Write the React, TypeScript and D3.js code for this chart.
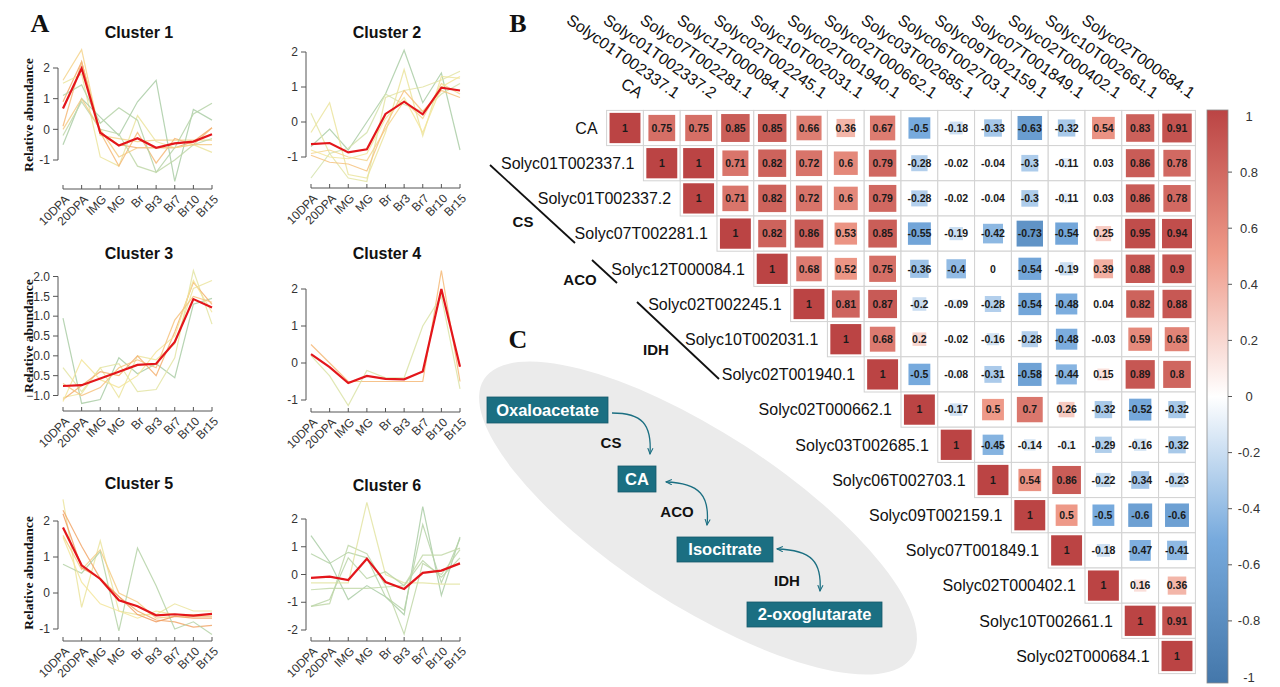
import React from 'react';
import * as d3 from 'd3';

// ---------------- DATA ----------------
const stages = ['10DPA', '20DPA', 'IMG', 'MG', 'Br', 'Br3', 'Br7', 'Br10', 'Br15'];

const clusterTitles = ['Cluster 1', 'Cluster 2', 'Cluster 3', 'Cluster 4', 'Cluster 5', 'Cluster 6'];

const cluster1Profiles = [
  [0.9, 2.2, -0.1, -0.5, -0.6, -0.6, -0.6, -0.4, 0.05],
  [1.6, 2.6, -0.2, -0.3, -0.4, -0.35, -0.35, -0.35, -0.35],
  [1.5, 1.8, -0.9, -1.2, 0.45, -0.4, -0.6, -0.5, -0.75],
  [0.1, 2.2, -0.1, -1.2, -0.1, -1.1, -0.3, -0.5, 0.05],
  [-0.5, 1.0, 0.4, -0.2, 0.9, 1.6, -1.7, 0.65, 0.3],
  [1.1, 1.45, 0.2, 0.7, 0.3, -1.4, -0.6, 0.5, 0.85],
  [-0.2, 0.9, 0.0, -0.15, -1.2, -1.4, -1.0, -0.5, -0.3],
  [0.0, 1.0, 0.0, -0.9, -0.6, -0.6, -0.6, -0.5, -0.5],
];
const cluster1Membership = [0.85, 0.6, 0.45, 0.75, 0.1, 0.15, 0.2, 0.65];
const cluster1Centroid = [0.68, 1.99, -0.11, -0.53, -0.29, -0.6, -0.46, -0.4, -0.16];

const cluster2Profiles = [
  [-0.7, -0.2, -0.8, 0.0, 0.8, 2.05, 0.55, 1.4, -0.8],
  [0.25, -0.9, -1.6, -1.7, 0.7, 0.9, 1.0, 1.2, 1.45],
  [-1.6, -0.9, -0.75, -0.3, 0.8, 0.5, 0.3, 0.8, 1.1],
  [-0.3, 0.55, -1.5, -1.6, -0.3, 1.5, -0.4, 1.3, 1.25],
  [-0.9, -0.8, -1.0, -1.1, -0.2, 0.6, 0.1, 1.1, 0.8],
  [-0.95, -1.15, -1.2, -1.4, -0.1, 0.9, 0.3, 0.9, 0.7],
  [-0.8, -1.0, -1.05, -0.9, 0.1, 0.7, -0.3, 1.0, 1.3],
];
const cluster2Membership = [0.1, 0.4, 0.3, 0.45, 0.6, 0.7, 0.5];
const cluster2Centroid = [-0.63, -0.6, -0.87, -0.78, 0.23, 0.58, 0.22, 0.98, 0.9];

const cluster3Profiles = [
  [0.95, -1.2, -1.1, -0.05, -0.45, -0.2, -0.55, 1.3, 1.45],
  [-0.3, -0.9, -0.3, -0.2, -0.9, -0.85, -0.05, 2.15, 0.8],
  [-1.05, -0.95, -0.3, -1.05, 0.0, -0.1, 0.3, 1.7, 1.9],
  [-1.1, -0.75, -0.4, -0.5, 0.0, -0.5, 0.6, 1.85, 1.3],
  [-1.15, -0.1, -0.6, -0.8, -0.5, 0.1, 0.5, 1.9, 1.1],
  [-0.7, -1.0, -0.8, -0.3, -0.1, -0.3, 0.9, 1.5, 1.35],
];
const cluster3Membership = [0.1, 0.4, 0.45, 0.8, 0.5, 0.7];
const cluster3Centroid = [-0.76, -0.74, -0.57, -0.4, -0.23, -0.2, 0.35, 1.43, 1.22];

const cluster4Profiles = [
  [0.5, 0.0, -0.5, -0.5, -0.5, -0.5, -0.5, 2.5, -0.5],
  [0.2, -0.35, -1.15, -0.2, -0.4, -0.4, 1.0, 1.8, -0.7],
];
const cluster4Membership = [0.75, 0.35];
const cluster4Centroid = [0.24, -0.11, -0.54, -0.35, -0.43, -0.44, -0.23, 2.0, -0.1];

const cluster5Profiles = [
  [2.6, -0.4, 1.45, -0.5, -0.6, -0.6, -0.3, -0.5, -0.5],
  [2.3, 1.3, 0.4, -0.1, -0.5, -0.75, -0.8, -0.95, -0.9],
  [1.6, 0.65, 1.2, 0.0, -0.25, -0.7, -0.65, -0.65, -0.65],
  [0.8, 0.55, 1.15, -1.05, 1.25, 0.2, -1.0, -0.8, -1.15],
  [1.55, 0.3, -0.3, -0.5, -0.7, -0.5, -0.6, -0.6, -0.6],
  [2.2, 0.7, 0.4, -0.1, -0.6, -0.8, -0.65, -0.7, -0.7],
];
const cluster5Membership = [0.45, 0.85, 0.65, 0.15, 0.5, 0.9];
const cluster5Centroid = [1.82, 0.77, 0.39, -0.2, -0.37, -0.62, -0.59, -0.63, -0.58];

const cluster6Profiles = [
  [1.4, 0.45, -0.9, -0.4, -0.8, -1.45, 2.45, -0.75, 1.35],
  [0.75, 0.4, 0.8, 0.6, -0.8, -1.3, 1.8, -0.3, 1.3],
  [-1.15, -1.05, 1.05, 0.75, -0.4, -2.15, 0.4, 0.0, 0.9],
  [-0.3, -0.3, -0.3, 2.6, 0.0, -0.3, -0.3, -0.35, -0.35],
  [-0.55, -0.5, -0.5, -0.5, -0.45, -0.4, 0.7, 0.7, 0.95],
  [-1.15, -0.9, 0.6, -0.15, 0.1, -0.4, 0.5, -0.1, 0.6],
];
const cluster6Membership = [0.1, 0.15, 0.2, 0.4, 0.22, 0.18];
const cluster6Centroid = [-0.12, -0.08, -0.2, 0.57, -0.27, -0.52, 0.06, 0.14, 0.4];

const yTicksStd = [-1, 0, 1, 2];
const yTicksC3 = [-1, -0.5, 0, 0.5, 1, 1.5, 2];
const yTicksC6 = [-2, -1, 0, 1, 2];

const corrLabels = [
  'CA', 'Solyc01T002337.1', 'Solyc01T002337.2', 'Solyc07T002281.1', 'Solyc12T000084.1',
  'Solyc02T002245.1', 'Solyc10T002031.1', 'Solyc02T001940.1', 'Solyc02T000662.1',
  'Solyc03T002685.1', 'Solyc06T002703.1', 'Solyc09T002159.1', 'Solyc07T001849.1',
  'Solyc02T000402.1', 'Solyc10T002661.1', 'Solyc02T000684.1',
];
// upper triangle, row i holds columns i..15
const corrUpper = [
  [1, 0.75, 0.75, 0.85, 0.85, 0.66, 0.36, 0.67, -0.5, -0.18, -0.33, -0.63, -0.32, 0.54, 0.83, 0.91],
  [1, 1, 0.71, 0.82, 0.72, 0.6, 0.79, -0.28, -0.02, -0.04, -0.3, -0.11, 0.03, 0.86, 0.78],
  [1, 0.71, 0.82, 0.72, 0.6, 0.79, -0.28, -0.02, -0.04, -0.3, -0.11, 0.03, 0.86, 0.78],
  [1, 0.82, 0.86, 0.53, 0.85, -0.55, -0.19, -0.42, -0.73, -0.54, 0.25, 0.95, 0.94],
  [1, 0.68, 0.52, 0.75, -0.36, -0.4, 0, -0.54, -0.19, 0.39, 0.88, 0.9],
  [1, 0.81, 0.87, -0.2, -0.09, -0.28, -0.54, -0.48, 0.04, 0.82, 0.88],
  [1, 0.68, 0.2, -0.02, -0.16, -0.28, -0.48, -0.03, 0.59, 0.63],
  [1, -0.5, -0.08, -0.31, -0.58, -0.44, 0.15, 0.89, 0.8],
  [1, -0.17, 0.5, 0.7, 0.26, -0.32, -0.52, -0.32],
  [1, -0.45, -0.14, -0.1, -0.29, -0.16, -0.32],
  [1, 0.54, 0.86, -0.22, -0.34, -0.23],
  [1, 0.5, -0.5, -0.6, -0.6],
  [1, -0.18, -0.47, -0.41],
  [1, 0.16, 0.36],
  [1, 0.91],
  [1],
];
const colorbarTicks = [1, 0.8, 0.6, 0.4, 0.2, 0, -0.2, -0.4, -0.6, -0.8, -1];

const enzymeNames = ['CS', 'ACO', 'IDH'];
const metaboliteNames = ['Oxaloacetate', 'CA', 'Isocitrate', '2-oxoglutarate'];

// ---------------- STYLE / LAYOUT ----------------
const SANS = "'Liberation Sans', Arial, Helvetica, sans-serif";
const SERIF = "'Liberation Serif', 'Times New Roman', serif";

const membershipColor = d3
  .scaleLinear<string>()
  .domain([0, 0.3, 0.5, 0.7, 1])
  .range(['#96c2a3', '#d3e2ab', '#f3e59a', '#f6c27e', '#ee8a52']);

const corrColor = d3
  .scaleLinear<string>()
  .domain([-1, -0.5, 0, 0.5, 1])
  .range(['#4477AA', '#77AADD', '#FFFFFF', '#EE9988', '#BB4444']);

const clusterLayouts = [
  { x0: 63, x1: 212, yDom: [-1, 2], yRng: [160, 68], xAxisY: 189, title: [139, 38], ylab: [33, 115], ticks: yTicksStd, fmt: 'd' },
  { x0: 311, x1: 460, yDom: [-1, 2], yRng: [157, 52], xAxisY: 188, title: [387, 38], ylab: null, ticks: yTicksStd, fmt: 'd' },
  { x0: 63, x1: 212, yDom: [-1, 2], yRng: [395.5, 276.5], xAxisY: 411, title: [139, 259], ylab: [33, 336], ticks: yTicksC3, fmt: '.1f' },
  { x0: 311, x1: 460, yDom: [-1, 2], yRng: [400, 289], xAxisY: 412, title: [387, 259], ylab: null, ticks: yTicksStd, fmt: 'd' },
  { x0: 63, x1: 212, yDom: [-1, 2], yRng: [629, 521], xAxisY: 641, title: [139, 489], ylab: [33, 573], ticks: yTicksStd, fmt: 'd' },
  { x0: 311, x1: 460, yDom: [-2, 2], yRng: [630, 519], xAxisY: 641, title: [387, 491], ylab: null, ticks: yTicksC6, fmt: 'd' },
];
const clusterData = [
  [cluster1Profiles, cluster1Membership, cluster1Centroid],
  [cluster2Profiles, cluster2Membership, cluster2Centroid],
  [cluster3Profiles, cluster3Membership, cluster3Centroid],
  [cluster4Profiles, cluster4Membership, cluster4Centroid],
  [cluster5Profiles, cluster5Membership, cluster5Centroid],
  [cluster6Profiles, cluster6Membership, cluster6Centroid],
] as [number[][], number[], number[]][];

function ClusterPanel({ idx }: { idx: number }) {
  const L = clusterLayouts[idx];
  const [profiles, membership, centroid] = clusterData[idx];
  const x = d3.scalePoint<string>().domain(stages).range([L.x0, L.x1]);
  const y = d3.scaleLinear().domain(L.yDom).range(L.yRng);
  const line = d3
    .line<number>()
    .x((_, i) => x(stages[i]) as number)
    .y((d) => y(d));
  const axisX = L.x0 - 5;
  const fmt = L.fmt === 'd' ? (v: number) => String(v) : d3.format('.1f');
  const t0 = L.ticks[0];
  const t1 = L.ticks[L.ticks.length - 1];
  return (
    <g>
      <text x={L.title[0]} y={L.title[1]} textAnchor="middle" fontFamily={SANS} fontWeight="bold" fontSize={16} fill="#111">
        {clusterTitles[idx]}
      </text>
      {L.ylab && (
        <text
          transform={`translate(${L.ylab[0]},${L.ylab[1]}) rotate(-90)`}
          textAnchor="middle"
          fontFamily={SERIF}
          fontWeight="bold"
          fontSize={13.5}
          fill="#111"
        >
          Relative abundance
        </text>
      )}
      {/* y axis */}
      <line x1={axisX} x2={axisX} y1={y(t0)} y2={y(t1)} stroke="#555" strokeWidth={1} />
      {L.ticks.map((t) => (
        <g key={t}>
          <line x1={axisX - 5} x2={axisX} y1={y(t)} y2={y(t)} stroke="#555" />
          <text x={axisX - 8} y={y(t)} dy="0.35em" textAnchor="end" fontFamily={SANS} fontSize={12} fill="#333">
            {fmt(t)}
          </text>
        </g>
      ))}
      {/* x axis */}
      <line x1={L.x0} x2={L.x1} y1={L.xAxisY} y2={L.xAxisY} stroke="#555" />
      {stages.map((s) => (
        <g key={s}>
          <line x1={x(s)} x2={x(s)} y1={L.xAxisY} y2={L.xAxisY - 4} stroke="#555" />
          <text
            transform={`translate(${(x(s) as number) + 4},${L.xAxisY + 8}) rotate(-45)`}
            textAnchor="end"
            dy="0.35em"
            fontFamily={SANS}
            fontSize={12}
            fill="#333"
          >
            {s}
          </text>
        </g>
      ))}
      {profiles.map((p, i) => (
        <path key={i} d={line(p) as string} fill="none" stroke={membershipColor(membership[i])} strokeWidth={1.2} strokeOpacity={0.85} />
      ))}
      <path d={line(centroid) as string} fill="none" stroke="#e3161b" strokeWidth={2.2} />
    </g>
  );
}

function Heatmap() {
  const xs = d3.scaleBand<string>().domain(corrLabels).range([606.6, 1195.4]);
  const ys = d3.scaleBand<string>().domain(corrLabels).range([110.4, 673.6]);
  const cw = xs.bandwidth();
  const ch = ys.bandwidth();
  const cells: { i: number; j: number; v: number }[] = [];
  corrUpper.forEach((row, i) => row.forEach((v, k) => cells.push({ i, j: i + k, v })));
  const cbScale = d3.scaleLinear().domain([1, -1]).range([116, 677]);
  return (
    <g>
      {cells.map(({ i, j, v }) => {
        const x0 = xs(corrLabels[j]) as number;
        const y0 = ys(corrLabels[i]) as number;
        const s = Math.sqrt(Math.abs(v));
        const w = s * cw * 0.84;
        const h = s * ch * 0.86;
        return (
          <g key={`${i}-${j}`}>
            <rect x={x0} y={y0} width={cw} height={ch} fill="#fff" stroke="#d2d2d2" strokeWidth={1} />
            <rect x={x0 + (cw - w) / 2} y={y0 + (ch - h) / 2} width={w} height={h} fill={corrColor(v)} />
            <text
              x={x0 + cw / 2}
              y={y0 + ch / 2}
              dy="0.36em"
              textAnchor="middle"
              fontFamily={SANS}
              fontSize={10.5}
              fontWeight="bold"
              fill="#1a1a1a"
            >
              {String(v)}
            </text>
          </g>
        );
      })}
      {corrLabels.map((lab) => (
        <text
          key={`r${lab}`}
          x={(xs(lab) as number) - 9}
          y={(ys(lab) as number) + ch / 2}
          dy="0.36em"
          textAnchor="end"
          fontFamily={SANS}
          fontSize={16}
          fill="#111"
        >
          {lab}
        </text>
      ))}
      {corrLabels.map((lab) => (
        <text
          key={`c${lab}`}
          transform={`translate(${(xs(lab) as number) + cw / 2 + 13},99) rotate(35)`}
          textAnchor="end"
          fontFamily={SANS}
          fontSize={16}
          fill="#111"
        >
          {lab}
        </text>
      ))}
      {/* colorbar */}
      <defs>
        <linearGradient id="cbgrad" x1="0" x2="0" y1="0" y2="1">
          {[1, 0.5, 0, -0.5, -1].map((v) => (
            <stop key={v} offset={`${((1 - v) / 2) * 100}%`} stopColor={corrColor(v)} />
          ))}
        </linearGradient>
      </defs>
      <rect x={1207} y={110} width={21} height={573} fill="url(#cbgrad)" stroke="#8a8a8a" strokeWidth={0.8} />
      {colorbarTicks.map((t) => (
        <g key={t}>
          {Math.abs(t) < 1 && <line x1={1228} x2={1232} y1={cbScale(t)} y2={cbScale(t)} stroke="#555" />}
          <text x={1249} y={cbScale(t)} dy="0.35em" textAnchor="middle" fontFamily={SANS} fontSize={13} fill="#333">
            {String(t)}
          </text>
        </g>
      ))}
    </g>
  );
}

function Pathway() {
  const boxes = [
    { x: 487, y: 397, w: 121, h: 26 },
    { x: 618, y: 466, w: 38, h: 26 },
    { x: 677, y: 537, w: 96, h: 25 },
    { x: 747, y: 602, w: 135, h: 25 },
  ];
  const enzPos = [
    [611, 443],
    [677, 512],
    [787, 581],
  ];
  const arrows = [
    { d: 'M612,413 C642,413 652,424 650,454', both: false },
    { d: 'M666,482 C700,483 710,496 707,525', both: true },
    { d: 'M777,549 C812,550 822,562 820,591', both: true },
  ];
  const teal = '#1b6f82';
  return (
    <g>
      <defs>
        <marker id="ah" viewBox="0 0 10 10" refX="9" refY="5" markerWidth="5" markerHeight="5" orient="auto-start-reverse">
          <path d="M0,1 L9,5 L0,9" fill="none" stroke={teal} strokeWidth={1.6} />
        </marker>
      </defs>
      <ellipse cx={698} cy={518} rx={255} ry={86} transform="rotate(33 698 518)" fill="#ebebeb" />
      {boxes.map((b, i) => (
        <g key={metaboliteNames[i]}>
          <rect x={b.x} y={b.y} width={b.w} height={b.h} fill={teal} stroke="#15596a" strokeWidth={0.8} />
          <text x={b.x + b.w / 2} y={b.y + b.h / 2} dy="0.36em" textAnchor="middle" fontFamily={SANS} fontWeight="bold" fontSize={16.5} fill="#fff">
            {metaboliteNames[i]}
          </text>
        </g>
      ))}
      {enzymeNames.map((e, i) => (
        <text key={e} x={enzPos[i][0]} y={enzPos[i][1]} dy="0.36em" textAnchor="middle" fontFamily={SANS} fontWeight="bold" fontSize={15} fill="#111">
          {e}
        </text>
      ))}
      {arrows.map((a, i) => (
        <path
          key={i}
          d={a.d}
          fill="none"
          stroke={teal}
          strokeWidth={1.3}
          markerEnd="url(#ah)"
          markerStart={a.both ? 'url(#ah)' : undefined}
        />
      ))}
    </g>
  );
}

function GeneGroups() {
  const groups = [
    { line: [490, 165, 575, 243], label: [523, 222] },
    { line: [592, 260, 617, 283], label: [580, 280] },
    { line: [637, 302, 719, 379], label: [656, 350] },
  ];
  return (
    <g>
      {groups.map((g, i) => (
        <g key={enzymeNames[i]}>
          <line x1={g.line[0]} y1={g.line[1]} x2={g.line[2]} y2={g.line[3]} stroke="#111" strokeWidth={1.8} />
          <text x={g.label[0]} y={g.label[1]} dy="0.36em" textAnchor="middle" fontFamily={SANS} fontWeight="bold" fontSize={15} fill="#111">
            {enzymeNames[i]}
          </text>
        </g>
      ))}
    </g>
  );
}

export default function App() {
  return (
    <svg
      width={1280}
      height={687}
      viewBox="0 0 1280 687"
      style={{ position: 'absolute', left: 0, top: 0, background: '#fff' }}
    >
      <rect x={0} y={0} width={1280} height={687} fill="#fff" />
      <text x={40} y={32} textAnchor="middle" fontFamily={SERIF} fontWeight="bold" fontSize={26} fill="#111">A</text>
      <text x={518} y={32} textAnchor="middle" fontFamily={SERIF} fontWeight="bold" fontSize={26} fill="#111">B</text>
      <text x={518} y={348} textAnchor="middle" fontFamily={SERIF} fontWeight="bold" fontSize={26} fill="#111">C</text>
      {clusterLayouts.map((_, i) => (
        <ClusterPanel key={i} idx={i} />
      ))}
      <Pathway />
      <Heatmap />
      <GeneGroups />
    </svg>
  );
}
